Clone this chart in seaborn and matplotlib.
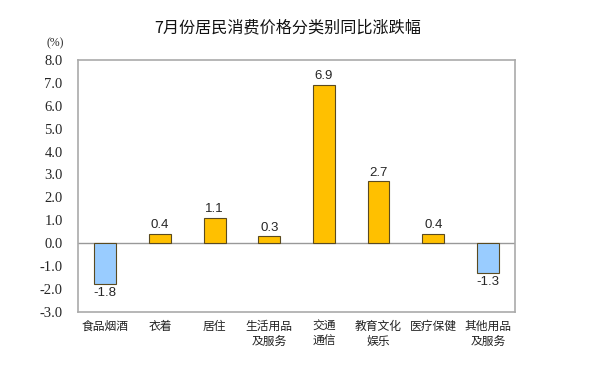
import matplotlib
matplotlib.use('Agg')
import matplotlib.pyplot as plt
import seaborn as sns
import pandas as pd

categories = ['食品烟酒', '衣着', '居住', '生活用品\n及服务', '交通\n通信', '教育文化\n娱乐', '医疗保健', '其他用品\n及服务']
values = [-1.8, 0.4, 1.1, 0.3, 6.9, 2.7, 0.4, -1.3]
yticks = [-3.0, -2.0, -1.0, 0.0, 1.0, 2.0, 3.0, 4.0, 5.0, 6.0, 7.0, 8.0]
title = '7月份居民消费价格分类别同比涨跌幅'

sns.set_style('white')
plt.rcParams['font.family'] = ['Noto Sans CJK SC', 'DejaVu Sans']

df = pd.DataFrame({'cat': categories, 'val': values})
colors = ['#99CCFF' if v < 0 else '#FFC000' for v in values]

fig = plt.figure(figsize=(6.04, 3.66), dpi=100)
ax = fig.add_axes([0.129, 0.148, 0.724, 0.688])
sns.barplot(data=df, x='cat', y='val', hue='cat', palette=colors, legend=False,
            width=0.4, edgecolor='#5a4a20', linewidth=0.8, ax=ax, saturation=1)

ax.set_ylim(-3.0, 8.0)
ax.set_xlim(-0.5, len(categories) - 0.5)
ax.set_yticks(yticks)
ax.set_yticklabels([f'{t:.1f}' for t in yticks])
ax.tick_params(axis='y', direction='in', length=3, color='#999999', pad=11,
               labelsize=10.5, labelfontfamily='Liberation Serif')
ax.tick_params(axis='x', length=0, labelsize=8.5, pad=6, colors='#222222')
ax.axhline(0, color='#999999', lw=1, zorder=0.5)
for s in ax.spines.values():
    s.set_color('#aaaaaa')
    s.set_linewidth(1.2)
ax.set_xlabel('')
ax.set_ylabel('')

for i, v in enumerate(values):
    off = 0.12 if v >= 0 else -0.12
    ax.text(i, v + off, f'{v:.1f}', ha='center', va='bottom' if v >= 0 else 'top',
            fontsize=9.5, family='Liberation Sans')

fig.text(0.477, 0.925, title, ha='center', va='center', fontsize=11.6, color='#111111')
fig.text(0.092, 0.882, '(%)', ha='center', va='center', fontsize=8.5, family='Liberation Serif')

fig.savefig('out.png', dpi=100)
